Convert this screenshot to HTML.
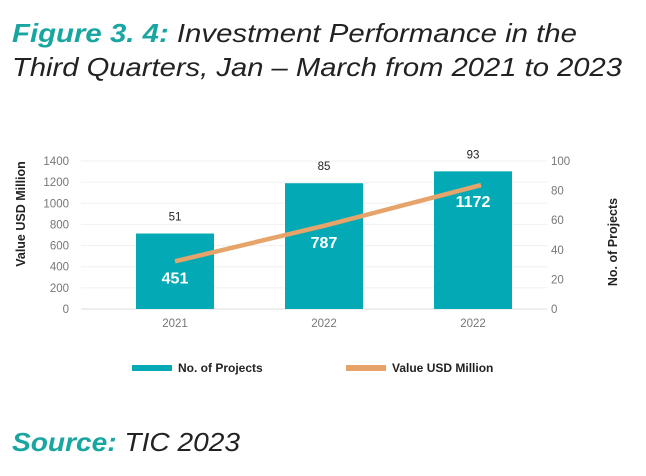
<!DOCTYPE html>
<html><head><meta charset="utf-8"><style>
html,body{margin:0;padding:0;background:#fff;}
svg{display:block;font-family:"Liberation Sans",sans-serif;}
</style></head><body>
<svg id="chart" width="646" height="476" viewBox="0 0 646 476">
<g>
<text x="12" y="42" font-size="26" font-style="italic" fill="#222" textLength="565" lengthAdjust="spacingAndGlyphs"><tspan fill="#1aa6a0" font-weight="bold">Figure 3. 4:</tspan> Investment Performance in the</text>
<text x="12" y="76" font-size="26" font-style="italic" fill="#222" textLength="610" lengthAdjust="spacingAndGlyphs">Third Quarters, Jan – March from 2021 to 2023</text>
</g>
<text transform="translate(25,214) rotate(-90)" text-anchor="middle" font-size="12.5" font-weight="bold" fill="#222">Value USD Million</text>
<text transform="translate(617,242) rotate(-90)" text-anchor="middle" font-size="12.5" font-weight="bold" fill="#222">No. of Projects</text>
<g id="grid"></g><g id="bars"></g><g id="line"></g><g id="labels"></g>
<g>
<rect x="132" y="365" width="40" height="6" fill="#03aab5"/>
<text x="178" y="372" font-size="12" font-weight="bold" fill="#222">No. of Projects</text>
<rect x="346" y="365" width="40" height="6" fill="#e6a46a"/>
<text x="392" y="372" font-size="12" font-weight="bold" fill="#222">Value USD Million</text>
</g>
<text x="12" y="451" font-size="26" font-style="italic" fill="#222" textLength="228" lengthAdjust="spacingAndGlyphs"><tspan fill="#1aa6a0" font-weight="bold">Source:</tspan> TIC 2023</text>
</svg>
<script>
const categories = ["2021", "2022", "2022"];
const projects = [51, 85, 93];
const values = [451, 787, 1172];
const leftTicks = [0, 200, 400, 600, 800, 1000, 1200, 1400];
const rightTicks = [0, 20, 40, 60, 80, 100];
const NS = "http://www.w3.org/2000/svg";
const y0 = 309, yTop = 161;
const yL = v => y0 - (v / 1400) * (y0 - yTop);
const yR = v => y0 - (v / 100) * (y0 - yTop);
const xC = i => 175 + i * 149;
function mk(tag, attrs, parent, txt) {
  const e = document.createElementNS(NS, tag);
  for (const k in attrs) e.setAttribute(k, attrs[k]);
  if (txt !== undefined) e.textContent = txt;
  document.getElementById(parent).appendChild(e);
  return e;
}
leftTicks.forEach(t => {
  const g = mk("line", {x1: 81, x2: 547, y1: yL(t), y2: yL(t), stroke: t === 0 ? "#ddd" : "#f0f0f0", "stroke-width": 1}, "grid");
  
  
  const l = mk("text", {x: 69, y: yL(t) + 4, "text-anchor": "end", "font-size": 11.5, fill: "#777"}, "grid", t);
  
  
});
rightTicks.forEach(t => {
  const l = mk("text", {x: 551, y: yR(t) + 4, "text-anchor": "start", "font-size": 11.5, fill: "#777"}, "grid", t);
  
  
});
categories.forEach((c, i) => {
  const l = mk("text", {x: xC(i), y: 327, "text-anchor": "middle", "font-size": 11.5, fill: "#777"}, "grid", c);
  
  
});
projects.forEach((p, i) => {
  const w = 78;
  const b = mk("rect", {x: xC(i) - w / 2, y: yR(p), width: w, height: y0 - yR(p), fill: "#03aab5"}, "bars");
  
  
  const l = mk("text", {x: xC(i), y: yR(p) - 13, "text-anchor": "middle", "font-size": 11.5, fill: "#222"}, "labels", p);
  
  
});
const pts = values.map((v, i) => [xC(i) + (i === values.length - 1 ? 8 : 0), yL(v)]);
const pl = mk("polyline", {points: pts.map(p => p.join(",")).join(" "), fill: "none", stroke: "#e6a46a", "stroke-width": 4.5}, "line");


values.forEach((v, i) => {
  const l = mk("text", {x: xC(i), y: yL(v) + 22, "text-anchor": "middle", "font-size": 16, "font-weight": "bold", fill: "#fff"}, "labels", v);
  
  
});
</script>
</body></html>
